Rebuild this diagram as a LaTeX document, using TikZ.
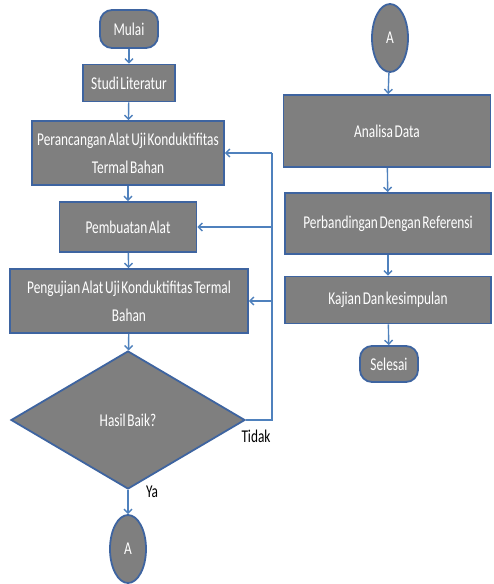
\documentclass[tikz,border=0pt]{standalone}
\usepackage{fontspec}
\setmainfont{Carlito}[FakeStretch=0.74, WordSpace=0.55]
\usetikzlibrary{shapes.geometric,arrows.meta}
\definecolor{boxfill}{RGB}{127,127,127}
\definecolor{boxedge}{RGB}{62,100,160}
\definecolor{linecol}{RGB}{79,129,189}
\begin{document}
\begin{tikzpicture}[x=1pt,y=-1pt,
  base/.style={draw=boxedge, line width=1.8pt, fill=boxfill, text=white,
    font=\fontsize{18}{28}\selectfont, align=center, inner sep=0pt},
  box/.style={base, rectangle},
  term/.style={base, rectangle, rounded corners=12pt},
  conn/.style={base, ellipse},
  dec/.style={base, diamond},
  arr/.style={draw=linecol, line width=1.4pt, -{Straight Barb[length=4pt,width=8pt]}},
  lin/.style={draw=linecol, line width=1.4pt},
  lbl/.style={font=\fontsize{18}{20}\selectfont, text=black, inner sep=0pt}]
\useasboundingbox (0,0) rectangle (493,584);
\fill[white] (0,0) rectangle (493,584);

\node[term, minimum width=58, minimum height=38] (mulai) at (129,29) {Mulai};
\node[box, minimum width=92, minimum height=37] (studi) at (129,83) {Studi Literatur};
\node[box, minimum width=192, minimum height=64] (peran) at (128,153) {Perancangan Alat Uji Konduktifitas\\Termal Bahan};
\node[box, minimum width=137, minimum height=50] (pemb) at (128,227) {Pembuatan Alat};
\node[box, minimum width=238, minimum height=64] (peng) at (129,301) {Pengujian Alat Uji Konduktifitas Termal\\Bahan};
\node[dec, minimum width=234, minimum height=138] (hasil) at (128,420) {Hasil Baik?};
\node[conn, minimum width=36, minimum height=68] (aL) at (128,549) {A};

\node[conn, minimum width=36, minimum height=68] (aR) at (390,38) {A};
\node[box, minimum width=207, minimum height=72] (anal) at (387,131) {Analisa Data};
\node[box, minimum width=206, minimum height=61] (perb) at (388,223.5) {Perbandingan Dengan Referensi};
\node[box, minimum width=206, minimum height=47] (kaj) at (388,300) {Kajian Dan kesimpulan};
\node[term, minimum width=58, minimum height=36] (sel) at (389,364) {Selesai};

\draw[arr] (mulai) -- (studi);
\draw[arr] (studi) -- (peran);
\draw[arr] (peran) -- (pemb);
\draw[arr] (pemb) -- (peng);
\draw[arr] (peng) -- (hasil);
\draw[arr] (hasil) -- (aL);

\draw[arr] (aR) -- (anal);
\draw[arr] (anal) -- (perb);
\draw[arr] (perb) -- (kaj);
\draw[arr] (kaj) -- (sel);

\coordinate (lp) at (272,418);
\draw[lin] (hasil.east) -- (lp |- hasil.east) -- (lp |- peran.east);
\draw[arr] (lp |- peran.east) -- (peran.east);
\draw[arr] (lp |- pemb.east) -- (pemb.east);
\draw[arr] (lp |- peng.east) -- (peng.east);

\node[lbl] (tidak) at (256,436) {Tidak};
\node[lbl] (ya) at (152,492) {Ya};
\end{tikzpicture}
\end{document}
